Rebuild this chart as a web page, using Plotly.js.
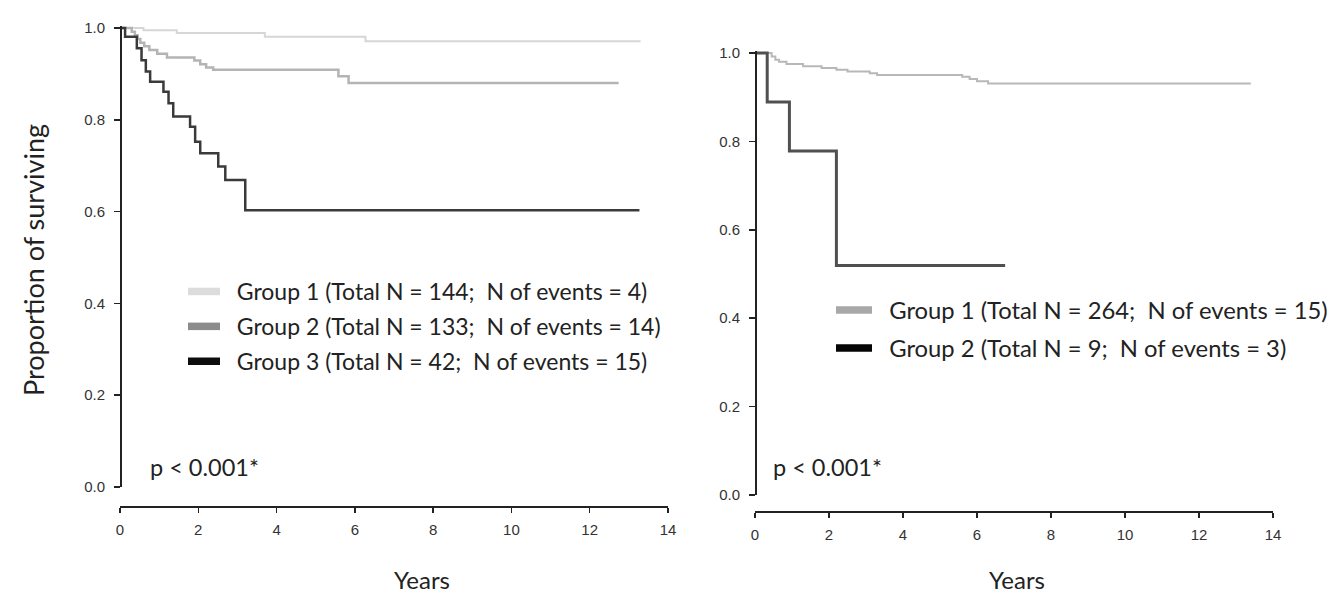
<!DOCTYPE html>
<html>
<head>
<meta charset="utf-8">
<script src="https://cdn.plot.ly/plotly-3.0.1.min.js"></script>
<style>
  html, body { margin: 0; padding: 0; background: #ffffff; }
  #chart { width: 1334px; height: 594px; }
</style>
</head>
<body>
<div id="chart"></div>
<script>
// ---------- Data ----------
// Left panel: Kaplan-Meier steps (years, proportion surviving)
const leftG1Years = [0, 0.6, 1.45, 3.7, 6.27, 13.3];
const leftG1Surv  = [1.0, 0.995, 0.989, 0.981, 0.971, 0.971];

const leftG2Years = [0, 0.3, 0.38, 0.45, 0.52, 0.62, 0.75, 0.95, 1.2, 1.9, 2.05, 2.2, 2.38, 5.58, 5.84, 12.74];
const leftG2Surv  = [1.0, 0.992, 0.984, 0.976, 0.968, 0.960, 0.952, 0.944, 0.936, 0.929, 0.921, 0.914, 0.909, 0.895, 0.880, 0.880];

const leftG3Years = [0, 0.13, 0.43, 0.55, 0.66, 0.77, 1.11, 1.24, 1.36, 1.79, 1.92, 2.05, 2.51, 2.69, 3.2, 13.27];
const leftG3Surv  = [1.0, 0.981, 0.956, 0.930, 0.905, 0.883, 0.861, 0.836, 0.807, 0.785, 0.752, 0.727, 0.698, 0.669, 0.603, 0.603];

// Right panel
const rightG1Years = [0, 0.45, 0.55, 0.65, 0.85, 1.3, 1.8, 2.2, 2.5, 3.1, 3.3, 5.6, 5.8, 6.0, 6.3, 13.4];
const rightG1Surv  = [1.0, 0.992, 0.985, 0.980, 0.975, 0.970, 0.966, 0.962, 0.958, 0.954, 0.950, 0.946, 0.941, 0.936, 0.931, 0.931];

const rightG2Years = [0, 0.33, 0.93, 2.2, 6.76];
const rightG2Surv  = [1.0, 0.889, 0.778, 0.519, 0.519];

// Labels
const leftLegendNames = [
  "Group 1 (Total N = 144;  N of events = 4)",
  "Group 2 (Total N = 133;  N of events = 14)",
  "Group 3 (Total N = 42;  N of events = 15)"
];
const rightLegendNames = [
  "Group 1 (Total N = 264;  N of events = 15)",
  "Group 2 (Total N = 9;  N of events = 3)"
];
const xTickVals = [0, 2, 4, 6, 8, 10, 12, 14];
const yTickVals = [0, 0.2, 0.4, 0.6, 0.8, 1.0];
const xTitleText = "Years";
const yTitleText = "Proportion of surviving";
const pValueText = "p < 0.001*";

// ---------- Styling ----------
const W = 1334, H = 594;
const px = v => v / W;
const py = v => 1 - v / H;
const pad = "\u00a0\u00a0";

const textFont = "Lato, 'Open Sans', sans-serif";
const tickFont = {family: "'Liberation Sans', Arial, sans-serif", size: 15, color: "#333"};

const leftCurveColors = ["#d6d6d6", "#b4b4b4", "#3a3a3a"];
const leftSwatchColors = ["#dcdcdc", "#8c8c8c", "#0d0d0d"];
const rightCurveColors = ["#b8b8b8", "#505050"];
const rightSwatchColors = ["#a8a8a8", "#050505"];

function curve(x, y, color, width, xa, ya) {
  return {type: "scatter", mode: "lines", x: x, y: y, xaxis: xa, yaxis: ya,
          line: {shape: "hv", color: color, width: width}, showlegend: false, hoverinfo: "skip"};
}
function legendItem(name, color, xa, ya, legend, group) {
  return {type: "scatter", mode: "lines", x: [null], y: [null], xaxis: xa, yaxis: ya,
          name: pad + name, legend: legend, legendgroup: group,
          line: {color: color, width: 7.5}, showlegend: true, hoverinfo: "skip"};
}

const traces = [
  curve(leftG1Years, leftG1Surv, leftCurveColors[0], 2, "x", "y"),
  curve(leftG2Years, leftG2Surv, leftCurveColors[1], 2.5, "x", "y"),
  curve(leftG3Years, leftG3Surv, leftCurveColors[2], 2.5, "x", "y"),
  curve(rightG1Years, rightG1Surv, rightCurveColors[0], 2, "x2", "y2"),
  curve(rightG2Years, rightG2Surv, rightCurveColors[1], 3, "x2", "y2"),
  legendItem(leftLegendNames[0], leftSwatchColors[0], "x", "y", "legend", "a"),
  legendItem(leftLegendNames[1], leftSwatchColors[1], "x", "y", "legend", "b"),
  legendItem(leftLegendNames[2], leftSwatchColors[2], "x", "y", "legend", "c"),
  legendItem(rightLegendNames[0], rightSwatchColors[0], "x2", "y2", "legend2", "d"),
  legendItem(rightLegendNames[1], rightSwatchColors[1], "x2", "y2", "legend2", "e")
];

function xAxis(d0, d1, pos) {
  return {domain: [px(d0), px(d1)], range: [0, 14], anchor: "free", position: py(pos),
          tickvals: xTickVals, ticks: "outside", ticklen: 5, tickwidth: 1.5, tickcolor: "#222",
          ticklabelstandoff: 4,
          showline: true, linecolor: "#222", linewidth: 1.5, showgrid: false, zeroline: false,
          tickfont: tickFont, fixedrange: true};
}
function yAxis(top, bottom, xpos) {
  const unit = (bottom - top);
  const topPx = bottom - 1.005 * unit;
  return {domain: [py(bottom), py(topPx)], range: [0, 1.005], anchor: "free", position: px(xpos),
          tickvals: yTickVals, tickformat: ".1f", ticks: "outside", ticklen: 6, tickwidth: 1.5, tickcolor: "#222",
          ticklabelstandoff: 6,
          showline: true, linecolor: "#222", linewidth: 1.5, showgrid: false, zeroline: false,
          tickfont: tickFont, fixedrange: true};
}

const layout = {
  width: W, height: H,
  margin: {l: 0, r: 0, t: 0, b: 0},
  paper_bgcolor: "#ffffff", plot_bgcolor: "#ffffff",
  showlegend: true,
  xaxis: xAxis(120, 668, 506),
  yaxis: yAxis(28, 487, 120),
  xaxis2: xAxis(755, 1273, 511),
  yaxis2: yAxis(53, 495, 755),
  legend: {x: px(183), y: py(270), xanchor: "left", yanchor: "top", bgcolor: "rgba(0,0,0,0)",
           font: {family: textFont, size: 23, color: "#222"}, itemwidth: 32, tracegroupgap: 2, traceorder: "grouped"},
  legend2: {x: px(831), y: py(288), xanchor: "left", yanchor: "top", bgcolor: "rgba(0,0,0,0)",
            font: {family: textFont, size: 23.8, color: "#222"}, itemwidth: 36, tracegroupgap: 4, traceorder: "grouped"},
  annotations: [
    {text: yTitleText, xref: "paper", yref: "paper", x: px(33), y: py(260), textangle: -90,
     showarrow: false, font: {family: textFont, size: 27, color: "#222"}, xanchor: "center", yanchor: "middle"},
    {text: xTitleText, xref: "paper", yref: "paper", x: px(422), y: py(579),
     showarrow: false, font: {family: textFont, size: 24, color: "#222"}, xanchor: "center", yanchor: "middle"},
    {text: xTitleText, xref: "paper", yref: "paper", x: px(1017), y: py(579),
     showarrow: false, font: {family: textFont, size: 24, color: "#222"}, xanchor: "center", yanchor: "middle"},
    {text: pValueText, xref: "paper", yref: "paper", x: px(148), y: py(467),
     showarrow: false, font: {family: textFont, size: 23.5, color: "#222"}, xanchor: "left", yanchor: "middle"},
    {text: pValueText, xref: "paper", yref: "paper", x: px(771), y: py(467),
     showarrow: false, font: {family: textFont, size: 23.5, color: "#222"}, xanchor: "left", yanchor: "middle"}
  ]
};

Plotly.newPlot("chart", traces, layout, {displayModeBar: false, staticPlot: true});
</script>
</body>
</html>
